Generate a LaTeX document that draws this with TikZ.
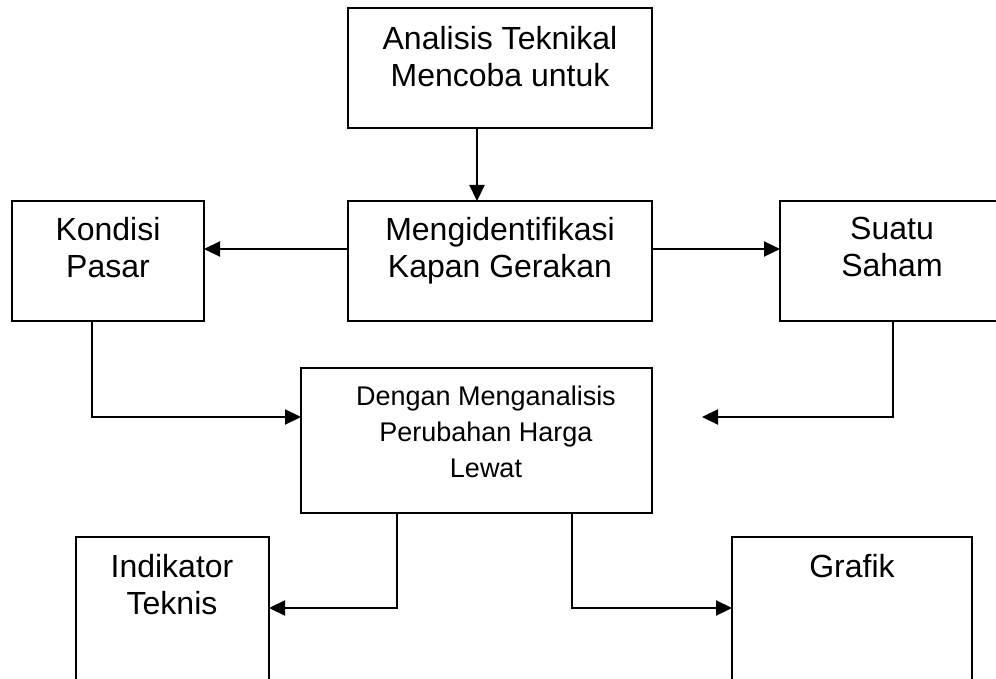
\documentclass[tikz,border=0pt]{standalone}
\usepackage{fontspec}
\setmainfont{Liberation Sans}
\usetikzlibrary{arrows.meta,calc}
\begin{document}
\begin{tikzpicture}[x=1pt,y=-1pt,
  box/.style={draw=black,line width=2.2pt,rectangle,inner sep=0pt,outer sep=0pt},
  lbl/.style={anchor=north,inner sep=0pt,align=center,font=\fontsize{32pt}{37pt}\selectfont},
  slbl/.style={anchor=north,inner sep=0pt,align=center,font=\fontsize{27pt}{36pt}\selectfont},
  arr/.style={draw=black,line width=2.2pt,-{Triangle[length=16pt,width=15pt]}}]
\useasboundingbox (0,0) rectangle (996,679);
\clip (0,0) rectangle (996,679);
% boxes
\node[box,minimum width=304pt,minimum height=120pt] (top) at (500,68) {};
\node[box,minimum width=304pt,minimum height=120pt] (mid) at (500,261) {};
\node[box,minimum width=192pt,minimum height=120pt] (left) at (108,261) {};
\node[box,minimum width=224pt,minimum height=120pt] (right) at (892,261) {};
\node[box,minimum width=351pt,minimum height=145pt] (center) at (476.5,440.5) {};
\node[box,minimum width=193pt,minimum height=153pt] (botL) at (172.5,613.5) {};
\node[box,minimum width=240pt,minimum height=153pt] (botR) at (852,613.5) {};
% texts
\node[lbl] (ttop) at (500,26) {Analisis Teknikal\\Mencoba untuk};
\node[lbl] (tmid) at (500,217) {Mengidentifikasi\\Kapan Gerakan};
\node[lbl] (tleft) at (108,217) {Kondisi\\Pasar};
\node[lbl] (tright) at (892,217) {Suatu\\Saham};
\node[slbl] (tcenter) at (486,386) {Dengan Menganalisis\\Perubahan Harga\\Lewat};
\node[lbl] (tbotL) at (172,554) {Indikator\\Teknis};
\node[lbl] (tbotR) at (852,554) {Grafik};
% connectors
\coordinate (rend) at (702,417);
\draw[arr] ([xshift=-23pt]top.south) -- ([xshift=-23pt]mid.north);
\draw[arr] ([yshift=12pt]mid.west) -- ([yshift=12pt]left.east);
\draw[arr] ([yshift=12pt]mid.east) -- ([yshift=12pt]right.west);
\draw[arr] ([xshift=-16pt]left.south) |- ([yshift=23.5pt]center.west);
\draw[arr] ([xshift=1pt]right.south) |- (rend);
\draw[arr] ([xshift=-79.5pt]center.south) |- ([yshift=5.5pt]botL.east);
\draw[arr] ([xshift=95.5pt]center.south) |- ([yshift=5.5pt]botR.west);
\end{tikzpicture}
\end{document}
